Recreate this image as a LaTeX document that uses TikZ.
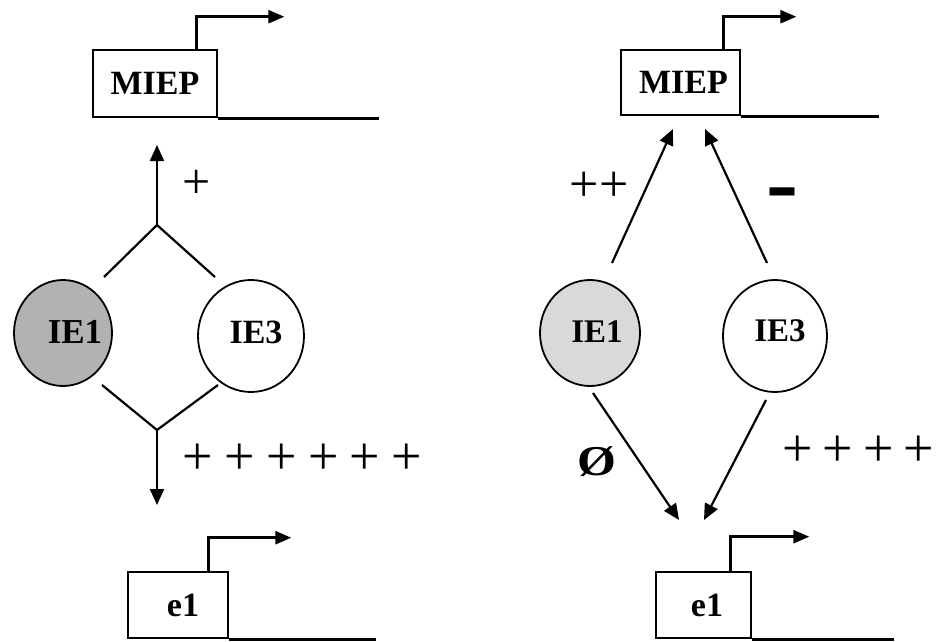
\documentclass[tikz,border=0pt]{standalone}
\usepackage{fontspec}
\setmainfont{Liberation Serif}
\usetikzlibrary{arrows.meta,shapes.geometric}
\begin{document}
\begin{tikzpicture}[x=1pt,y=-1pt,
  gene/.style={draw, line width=2.6pt, inner sep=0pt,
    font=\fontsize{34}{34}\selectfont\bfseries},
  prom/.style={line width=2.6pt, -{Triangle[length=16pt,width=13pt]}},
  dna/.style={line width=2.6pt},
  ie/.style={draw, ellipse, line width=1.8pt, inner sep=0pt},
  ietext/.style={anchor=base, inner sep=0pt, font=\bfseries},
  link/.style={line width=2.2pt},
  act/.style={line width=2.2pt, -{Triangle[length=16pt,width=14pt]}},
  sign/.style={anchor=base, inner sep=0pt}
]
\useasboundingbox (0,0) rectangle (938,642);

% ---------------- left panel ----------------
\node[gene, minimum width=124pt, minimum height=67pt] (lmiep) at (155,83.5) {MIEP};
\draw[prom] ([xshift=-22pt]lmiep.north east) |- ++(88,-32);
\draw[dna] (lmiep.south east) -- ++(161,0);

\node[gene, minimum width=100pt, minimum height=66pt] (le1) at (178,605) {\hspace*{10pt}e1};
\draw[prom] ([xshift=-21pt]le1.north east) |- ++(83,-33);
\draw[dna] (le1.south east) -- ++(147,0);

\node[ie, fill=black!30, minimum width=98pt, minimum height=106pt] (lie1) at (63,333) {};
\node[ietext, font=\fontsize{35}{35}\selectfont\bfseries] (lie1t) at (75,343) {IE1};
\node[ie, fill=white, minimum width=106pt, minimum height=112pt] (lie3) at (251,336) {};
\node[ietext, font=\fontsize{34}{34}\selectfont\bfseries] (lie3t) at (256,343) {IE3};

% joint action of IE1 and IE3
\coordinate (ltopa) at (104,277);
\coordinate (ltopapex) at (157,225);
\coordinate (ltopb) at (215,277);
\coordinate (lup) at (157,145);
\draw[link] (ltopa) -- (ltopapex) -- (ltopb);
\draw[act] (ltopapex) -- (lup);

\coordinate (lbota) at (102,385);
\coordinate (lbotapex) at (157,430);
\coordinate (lbotb) at (218,385);
\coordinate (ldown) at (157,505);
\draw[link] (lbota) -- (lbotapex) -- (lbotb);
\draw[act] (lbotapex) -- (ldown);

\node[sign, font=\fontsize{50}{50}\selectfont] (lplus) at (197,198) {+};
\node[sign, anchor=base west, font=\fontsize{54}{54}\selectfont] (lplus6) at (182,474)
  {+\hspace{11.5pt}+\hspace{11.5pt}+\hspace{11.5pt}+\hspace{11.5pt}+\hspace{11.5pt}+};

% ---------------- right panel ----------------
\node[gene, minimum width=119pt, minimum height=65pt] (rmiep) at (680.5,82.5) {\hspace*{6pt}MIEP};
\draw[prom] ([xshift=-18pt]rmiep.north east) |- ++(73,-32);
\draw[dna] (rmiep.south east) -- ++(138,0);

\node[gene, minimum width=95pt, minimum height=66pt] (re1) at (703.5,605) {\hspace*{7pt}e1};
\draw[prom] ([xshift=-22pt]re1.north east) |- ++(79,-34);
\draw[dna] (re1.south east) -- ++(142,0);

\node[ie, fill=black!15, minimum width=100pt, minimum height=106pt] (rie1) at (590,333) {};
\node[ietext, font=\fontsize{33}{33}\selectfont\bfseries] (rie1t) at (597,342) {IE1};
\node[ie, fill=white, minimum width=104pt, minimum height=112pt] (rie3) at (775,336) {};
\node[ietext, font=\fontsize{33}{33}\selectfont\bfseries] (rie3t) at (780,341) {IE3};

% separate effects of IE1 and IE3
\coordinate (r1a) at (612,263);
\coordinate (r1b) at (673,129);
\coordinate (r3a) at (767,263);
\coordinate (r3b) at (705,129);
\draw[act] (r1a) -- (r1b);
\draw[act] (r3a) -- (r3b);

\coordinate (r1c) at (593,393);
\coordinate (r1d) at (679,520);
\coordinate (r3c) at (766,400);
\coordinate (r3d) at (704,520);
\draw[act] (r1c) -- (r1d);
\draw[act] (r3c) -- (r3d);

\node[sign, font=\fontsize{52}{52}\selectfont] (rpp) at (599,201) {++};
\node[sign, font=\fontsize{96}{96}\selectfont\bfseries] (rminus) at (782,214) {-};
\node[sign, font=\fontsize{50}{50}\selectfont\bfseries] (rnull) at (596.5,475) {\scalebox{1}[0.85]{Ø}};
\node[sign, anchor=base west, font=\fontsize{54}{54}\selectfont] (rplus4) at (782,466)
  {+\hspace{10pt}+\hspace{10pt}+\hspace{10pt}+};
\end{tikzpicture}
\end{document}
